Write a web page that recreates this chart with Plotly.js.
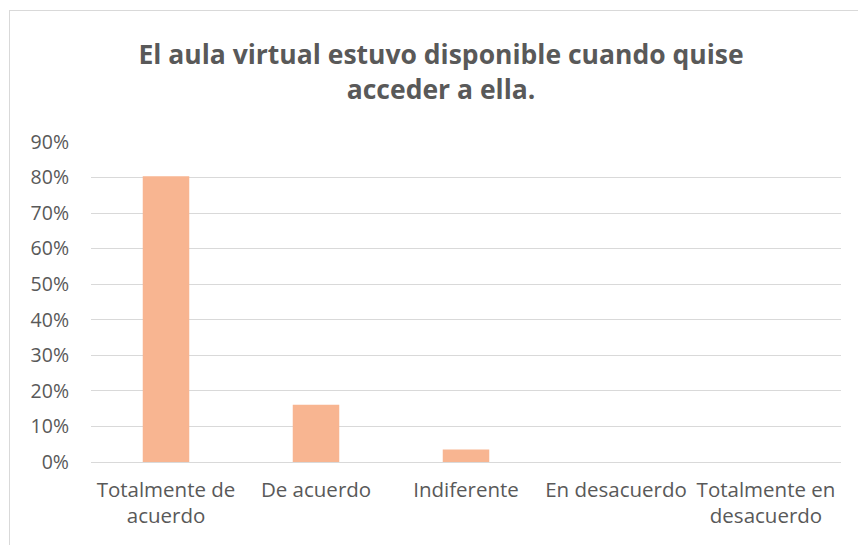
<!DOCTYPE html>
<html><head><meta charset="utf-8">
<script src="https://cdn.plot.ly/plotly-3.0.1.min.js"></script>
<style>
html,body{margin:0;padding:0;background:#fff;}
#frame{position:absolute;left:9px;top:10px;width:860px;height:545px;border:1px solid #d9d9d9;box-sizing:border-box;}
#chart{position:absolute;left:0;top:0;width:858px;height:545px;}
</style></head>
<body>
<div id="frame"></div>
<div id="chart"></div>
<script>
const categories = ["Totalmente de<br>acuerdo", "De acuerdo", "Indiferente", "En desacuerdo", "Totalmente en<br>desacuerdo"];
const values = [0.804, 0.161, 0.035, 0, 0];
const tickVals = [0, 0.1, 0.2, 0.3, 0.4, 0.5, 0.6, 0.7, 0.8, 0.9];
const tickText = ["0%", "10%", "20%", "30%", "40%", "50%", "60%", "70%", "80%", "90%"];
const titleText = "El aula virtual estuvo disponible cuando quise<br>acceder a ella.";

const font = "Open Sans, Noto Sans, sans-serif";
Plotly.newPlot("chart", [{
  type: "bar",
  x: categories,
  y: values,
  marker: {color: "#F8B591"},
  hoverinfo: "none"
}], {
  width: 858, height: 545,
  paper_bgcolor: "rgba(0,0,0,0)",
  plot_bgcolor: "rgba(0,0,0,0)",
  margin: {l: 91, r: 17, t: 142, b: 83},
  bargap: 0.69,
  showlegend: false,
  title: {
    text: titleText,
    font: {family: font, size: 26.5, color: "#595959", weight: "bold"},
    x: 0.514, xanchor: "center",
    y: 0.882, yanchor: "middle", yref: "container"
  },
  xaxis: {
    showline: false, zeroline: false, showgrid: false,
    ticks: "", tickangle: 0,
    ticklabelstandoff: 13,
    tickfont: {family: font, size: 20.5, color: "#595959"}
  },
  yaxis: {
    range: [0, 0.9],
    tickvals: tickVals, ticktext: tickText,
    showgrid: true, gridcolor: "#d9d9d9", gridwidth: 1,
    zeroline: true, zerolinecolor: "#d9d9d9", zerolinewidth: 1,
    showline: false, ticks: "",
    ticklabelstandoff: 21,
    tickfont: {family: font, size: 19.5, color: "#595959"}
  }
}, {staticPlot: true});
</script>
</body></html>
